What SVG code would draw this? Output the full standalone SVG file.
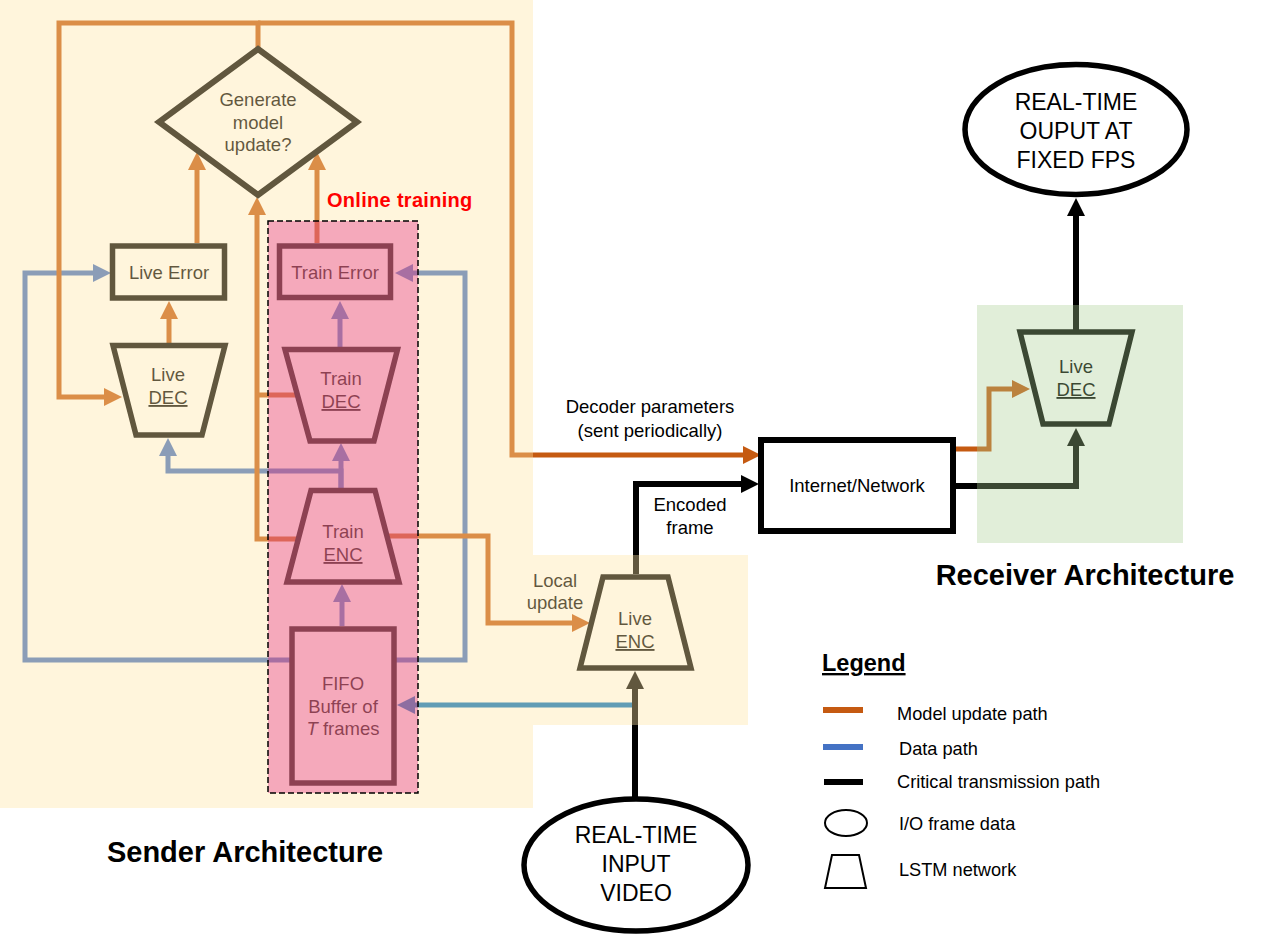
<svg xmlns="http://www.w3.org/2000/svg" width="1273" height="934" viewBox="0 0 1273 934">
<style>
text{font-family:"Liberation Sans",Arial,Helvetica,sans-serif;fill:#000;}
.lbl{font-size:18.5px;text-anchor:middle;}
.big{font-size:23px;text-anchor:middle;}
.title{font-size:29px;font-weight:bold;text-anchor:middle;}
.leg{font-size:18.2px;}
.u{text-decoration:underline;}
.node{fill:none;stroke:#000;stroke-width:5.5;stroke-linejoin:miter;}
.or{fill:none;stroke:#C55A11;stroke-width:5;}
.bl{fill:none;stroke:#4472C4;stroke-width:5;}
.tl{fill:none;stroke:#0070C0;stroke-width:5;}
.bk{fill:none;stroke:#000;stroke-width:6;}
.cream{fill:#FFE5A3;fill-opacity:0.38;}
.pink{fill:#E1187B;fill-opacity:0.34;}
.green{fill:#AACD93;fill-opacity:0.35;}
</style>
<defs>
<marker id="aO" markerUnits="userSpaceOnUse" markerWidth="18" markerHeight="18" refX="0" refY="9" orient="auto" viewBox="0 0 18 18"><path d="M0,0 L18,9 L0,18 z" fill="#C55A11"/></marker>
<marker id="aB" markerUnits="userSpaceOnUse" markerWidth="18" markerHeight="18" refX="0" refY="9" orient="auto" viewBox="0 0 18 18"><path d="M0,0 L18,9 L0,18 z" fill="#4472C4"/></marker>
<marker id="aT" markerUnits="userSpaceOnUse" markerWidth="18" markerHeight="18" refX="0" refY="9" orient="auto" viewBox="0 0 18 18"><path d="M0,0 L18,9 L0,18 z" fill="#0070C0"/></marker>
<marker id="aK" markerUnits="userSpaceOnUse" markerWidth="18" markerHeight="18" refX="0" refY="9" orient="auto" viewBox="0 0 18 18"><path d="M0,0 L18,9 L0,18 z" fill="#000"/></marker>
</defs>
<rect x="0" y="0" width="1273" height="934" fill="#fff"/>

<g id="connectors">
  <path class="bl" d="M292,660 H25 V273 H93" marker-end="url(#aB)"/>
  <path class="bl" d="M394,660 H465 V273 H413" marker-end="url(#aB)"/>
  <path class="bl" d="M341,488 V471 H168 V456" marker-end="url(#aB)"/>
  <path class="bl" d="M341,488 V461" marker-end="url(#aB)"/>
  <path class="bl" d="M340,347 V319" marker-end="url(#aB)"/>
  <path class="bl" d="M342,626 V602" marker-end="url(#aB)"/>
  <path class="tl" d="M636,705 H415" marker-end="url(#aT)"/>
  <path class="or" d="M258,49 V23 H59 V397 H104" marker-end="url(#aO)"/>
  <path class="or" d="M258,23 H512 V455 H743" marker-end="url(#aO)"/>
  <path class="or" d="M197,243 V170" marker-end="url(#aO)"/>
  <path class="or" d="M317,243 V170" marker-end="url(#aO)"/>
  <path class="or" d="M298,539 H257 V215" marker-end="url(#aO)"/>
  <path class="or" d="M297,395 H257"/>
  <path class="or" d="M169,345 V319" marker-end="url(#aO)"/>
  <path class="or" d="M387,536 H488 V623 H572" marker-end="url(#aO)"/>
  <path class="or" d="M955,449 H989 V389 H1012" marker-end="url(#aO)"/>
  <path class="bk" d="M635,798 V689" marker-end="url(#aK)"/>
  <path class="bk" d="M636,574 V484 H741" marker-end="url(#aK)"/>
  <path class="bk" d="M955,486 H1076 V446" marker-end="url(#aK)"/>
  <path class="bk" d="M1076,330 V216" marker-end="url(#aK)"/>
</g>

<g id="decision">
  <polygon class="node" style="stroke-width:6" points="258,49 357,122 258,195 159,122"/>
  <text class="lbl" x="258" y="106">Generate</text>
  <text class="lbl" x="258" y="129">model</text>
  <text class="lbl" x="258" y="151">update?</text>
</g>
<g id="live-error">
  <rect class="node" x="112.5" y="246" width="112" height="52"/>
  <text class="lbl" x="169" y="279">Live Error</text>
</g>
<g id="train-error">
  <rect class="node" x="279.5" y="246" width="111" height="51.5"/>
  <text class="lbl" x="335" y="279">Train Error</text>
</g>
<g id="live-dec-sender">
  <polygon class="node" points="113,345.5 225,345.5 202,435 136,435"/>
  <text class="lbl" x="168" y="381">Live</text>
  <text class="lbl u" x="168" y="404">DEC</text>
</g>
<g id="train-dec">
  <polygon class="node" points="285,349.5 397.5,349.5 374,441 310,441"/>
  <text class="lbl" x="341" y="385">Train</text>
  <text class="lbl u" x="341" y="408">DEC</text>
</g>
<g id="train-enc">
  <polygon class="node" points="311,490.5 375,490.5 399,582 287,582"/>
  <text class="lbl" x="343" y="538">Train</text>
  <text class="lbl u" x="343" y="561">ENC</text>
</g>
<g id="fifo">
  <rect class="node" x="292" y="629" width="102" height="154"/>
  <text class="lbl" x="343" y="690">FIFO</text>
  <text class="lbl" x="343" y="713">Buffer of</text>
  <text class="lbl" x="343" y="735"><tspan font-style="italic">T</tspan> frames</text>
</g>
<g id="live-enc">
  <polygon class="node" points="603,577 668,577 691,668 580,668"/>
  <text class="lbl" x="635" y="625">Live</text>
  <text class="lbl u" x="635" y="648">ENC</text>
</g>
<g id="internet">
  <rect class="node" style="stroke-width:6" x="761" y="440" width="192" height="91"/>
  <text class="lbl" x="857" y="492">Internet/Network</text>
</g>
<g id="live-dec-receiver">
  <polygon class="node" points="1020,332 1132,332 1109,424 1043,424"/>
  <text class="lbl" x="1076" y="373">Live</text>
  <text class="lbl u" x="1076" y="396">DEC</text>
</g>
<g id="output">
  <ellipse class="node" cx="1076" cy="129.5" rx="111" ry="65"/>
  <text class="big" x="1076" y="110">REAL-TIME</text>
  <text class="big" x="1076" y="139">OUPUT AT</text>
  <text class="big" x="1076" y="168">FIXED FPS</text>
</g>
<g id="input">
  <ellipse class="node" cx="636" cy="865" rx="112" ry="66"/>
  <text class="big" x="636" y="843">REAL-TIME</text>
  <text class="big" x="636" y="872">INPUT</text>
  <text class="big" x="636" y="901">VIDEO</text>
</g>

<g id="edge-labels">
  <text class="lbl" x="650" y="413">Decoder parameters</text>
  <text class="lbl" x="650" y="437">(sent periodically)</text>
  <text class="lbl" x="690" y="511">Encoded</text>
  <text class="lbl" x="690" y="534">frame</text>
  <text class="lbl" x="555" y="587">Local</text>
  <text class="lbl" x="555" y="609">update</text>
</g>

<g id="regions">
  <rect class="cream" x="0" y="0" width="533" height="808"/>
  <rect class="cream" x="533" y="555" width="215" height="170"/>
  <rect class="pink" x="268" y="221" width="150" height="572"/>
  <rect x="268" y="221" width="150" height="572" fill="none" stroke="#000" stroke-width="1.5" stroke-dasharray="6,3"/>
  <rect class="green" x="977" y="305" width="206" height="238"/>
</g>

<text x="327" y="207" style="font-size:20px;font-weight:bold;fill:#FF0000;letter-spacing:0.3px;">Online  training</text>
<text class="title" x="245" y="862">Sender Architecture</text>
<text class="title" x="1085" y="585">Receiver Architecture</text>

<g id="legend">
  <text x="822" y="671" class="u" style="font-size:23.5px;font-weight:bold;">Legend</text>
  <line x1="823" y1="710" x2="863" y2="710" stroke="#C55A11" stroke-width="6"/>
  <text class="leg" x="897" y="720">Model update path</text>
  <line x1="823" y1="747" x2="863" y2="747" stroke="#4472C4" stroke-width="6"/>
  <text class="leg" x="899" y="755">Data path</text>
  <line x1="824" y1="782" x2="863" y2="782" stroke="#000" stroke-width="6"/>
  <text class="leg" x="897" y="788">Critical transmission path</text>
  <ellipse cx="846" cy="823" rx="21" ry="13" fill="none" stroke="#000" stroke-width="2"/>
  <text class="leg" x="899" y="830">I/O frame data</text>
  <polygon points="832,855 859,855 866,888 825,888" fill="none" stroke="#000" stroke-width="2"/>
  <text class="leg" x="899" y="876">LSTM network</text>
</g>
</svg>
